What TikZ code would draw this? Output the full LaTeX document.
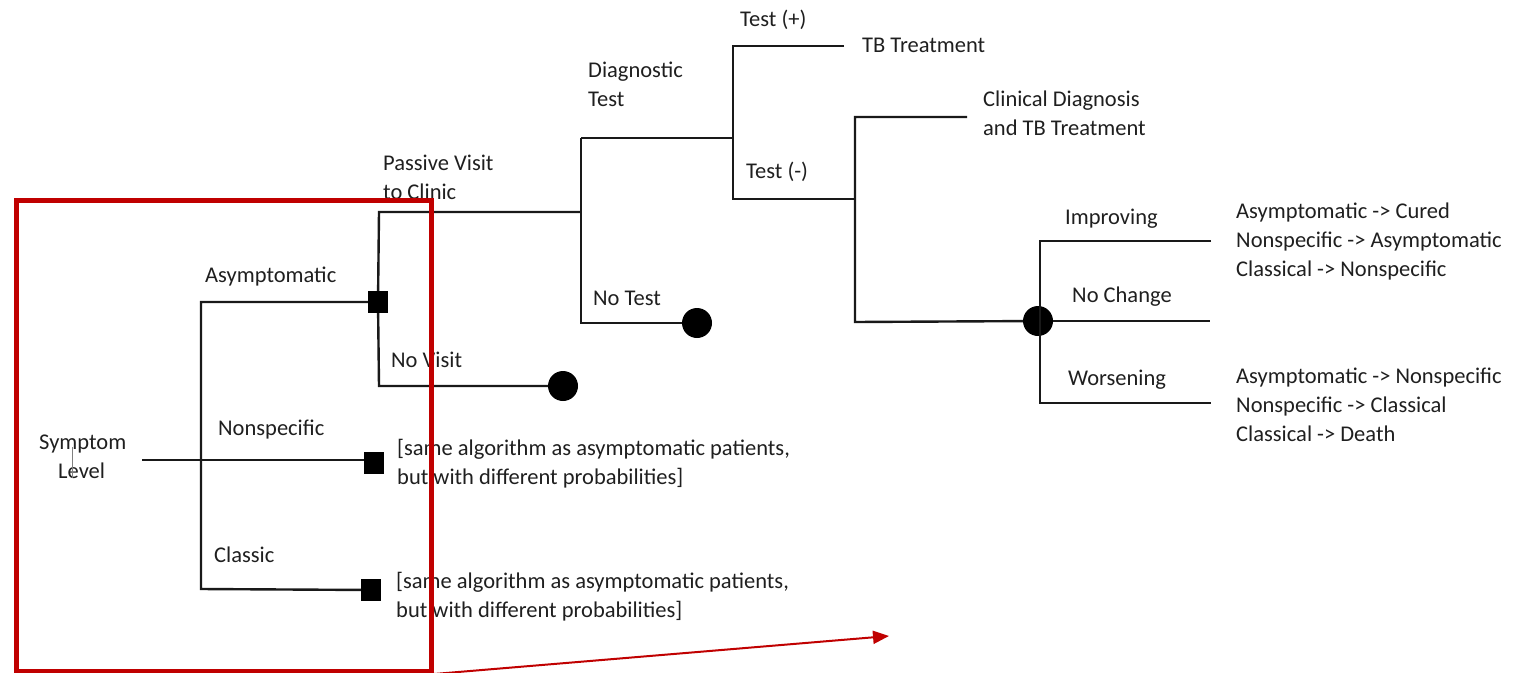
\documentclass[tikz,border=0pt]{standalone}
\usepackage{fontspec}
\setmainfont{Carlito}
\usetikzlibrary{arrows.meta}
\definecolor{frameRed}{RGB}{192,0,0}
\begin{document}
\begin{tikzpicture}[x=1pt,y=-1pt,
  branch/.style={line width=2.4pt,black!90},
  decision/.style={fill=black,minimum width=20pt,minimum height=22pt,inner sep=0pt},
  chance/.style={circle,fill=black,minimum size=30pt,inner sep=0pt},
  lbl/.style={anchor=base west,inner sep=0pt,font=\fontsize{22.5}{29}\selectfont,text=black!88,align=left},
]
\useasboundingbox (0,0) rectangle (1522,672);
% multi-line labels are placed by the baseline of their last line

% ---- root: symptom level ----
\node[lbl] (symLbl) at (39,478) {Symptom\\\hspace*{19pt}Level};
\draw[gray,line width=1pt] (72,447) -- (72,478);
\coordinate (root) at (142,460);
\coordinate (sT) at (201,302);
\coordinate (sB) at (201,589);
\node[decision] (dA) at (378,302) {};
\node[decision] (dN) at (374,463) {};
\node[decision] (dC) at (371,590) {};
\draw[branch] (root) -- (root -| dN.west);
\draw[branch] (dA) -- (sT) -- (sB) -- (dC);
\node[lbl] at (205,282) {Asymptomatic};
\node[lbl] at (218,435) {Nonspecific};
\node[lbl] at (214,562) {Classic};
\node[lbl] at (397,484) {[same algorithm as asymptomatic patients,\\but with different probabilities]};
\node[lbl] at (396,617) {[same algorithm as asymptomatic patients,\\but with different probabilities]};

% ---- visit decision ----
\coordinate (pT) at (379,212);
\coordinate (pB) at (379,386);
\coordinate (vT) at (581,212);
\node[chance] (cNV) at (563,386) {};
\draw[branch] (dA) -- (pT) -- (vT);
\draw[branch] (dA) -- (pB) -- (cNV);
\node[lbl] at (383,199) {Passive Visit\\to Clinic};
\node[lbl] at (391,367) {No Visit};

% ---- diagnostic test decision ----
\coordinate (gT) at (581,138);
\coordinate (gB) at (581,323);
\coordinate (gJ) at (733,138);
\node[chance] (cNT) at (697,323) {};
\draw[branch] (gT) -- (gB) -- (cNT);
\draw[branch] (gT) -- (gJ);
\node[lbl] at (588,106) {Diagnostic\\Test};
\node[lbl] at (593,305) {No Test};

% ---- test result ----
\coordinate (tT) at (733,46);
\coordinate (tB) at (733,199);
\coordinate (tPos) at (844,46);
\coordinate (tJ) at (855,199);
\draw[branch] (tPos) -- (tT) -- (tB) -- (tJ);
\node[lbl] at (740,26) {Test (+)};
\node[lbl] at (862,52) {TB Treatment};
\node[lbl] at (746,178) {Test (-)};

% ---- after negative test ----
\coordinate (nT) at (855,117);
\coordinate (nB) at (855,322);
\coordinate (nEnd) at (967,117);
\node[chance] (cO) at (1038,321) {};
\draw[branch] (nEnd) -- (nT) -- (nB) -- (cO);
\node[lbl] at (983,135) {Clinical Diagnosis\\and TB Treatment};

% ---- symptom progression ----
\coordinate (oT) at (1040,241);
\coordinate (oB) at (1040,403);
\coordinate (oTE) at (1211,241);
\coordinate (oME) at (1210,321);
\coordinate (oBE) at (1211,403);
\draw[branch] (oTE) -- (oT) -- (oB) -- (oBE);
\draw[branch] (cO) -- (oME);
\node[lbl] at (1065,224) {Improving};
\node[lbl] at (1072,302) {No Change};
\node[lbl] at (1068,385) {Worsening};
\node[lbl] at (1236,276) {Asymptomatic -> Cured\\Nonspecific -> Asymptomatic\\Classical -> Nonspecific};
\node[lbl] at (1236,441) {Asymptomatic -> Nonspecific\\Nonspecific -> Classical\\Classical -> Death};

% ---- highlight frame and pointer ----
\node[draw=frameRed,line width=5pt,minimum width=415pt,minimum height=471pt,inner sep=0pt,anchor=north west] (frame) at (14,198) {};
\coordinate (tip) at (889,636);
\draw[frameRed,line width=2pt,-{Triangle[length=16pt,width=13pt]}] (frame.south east) -- (tip);
\end{tikzpicture}
\end{document}
